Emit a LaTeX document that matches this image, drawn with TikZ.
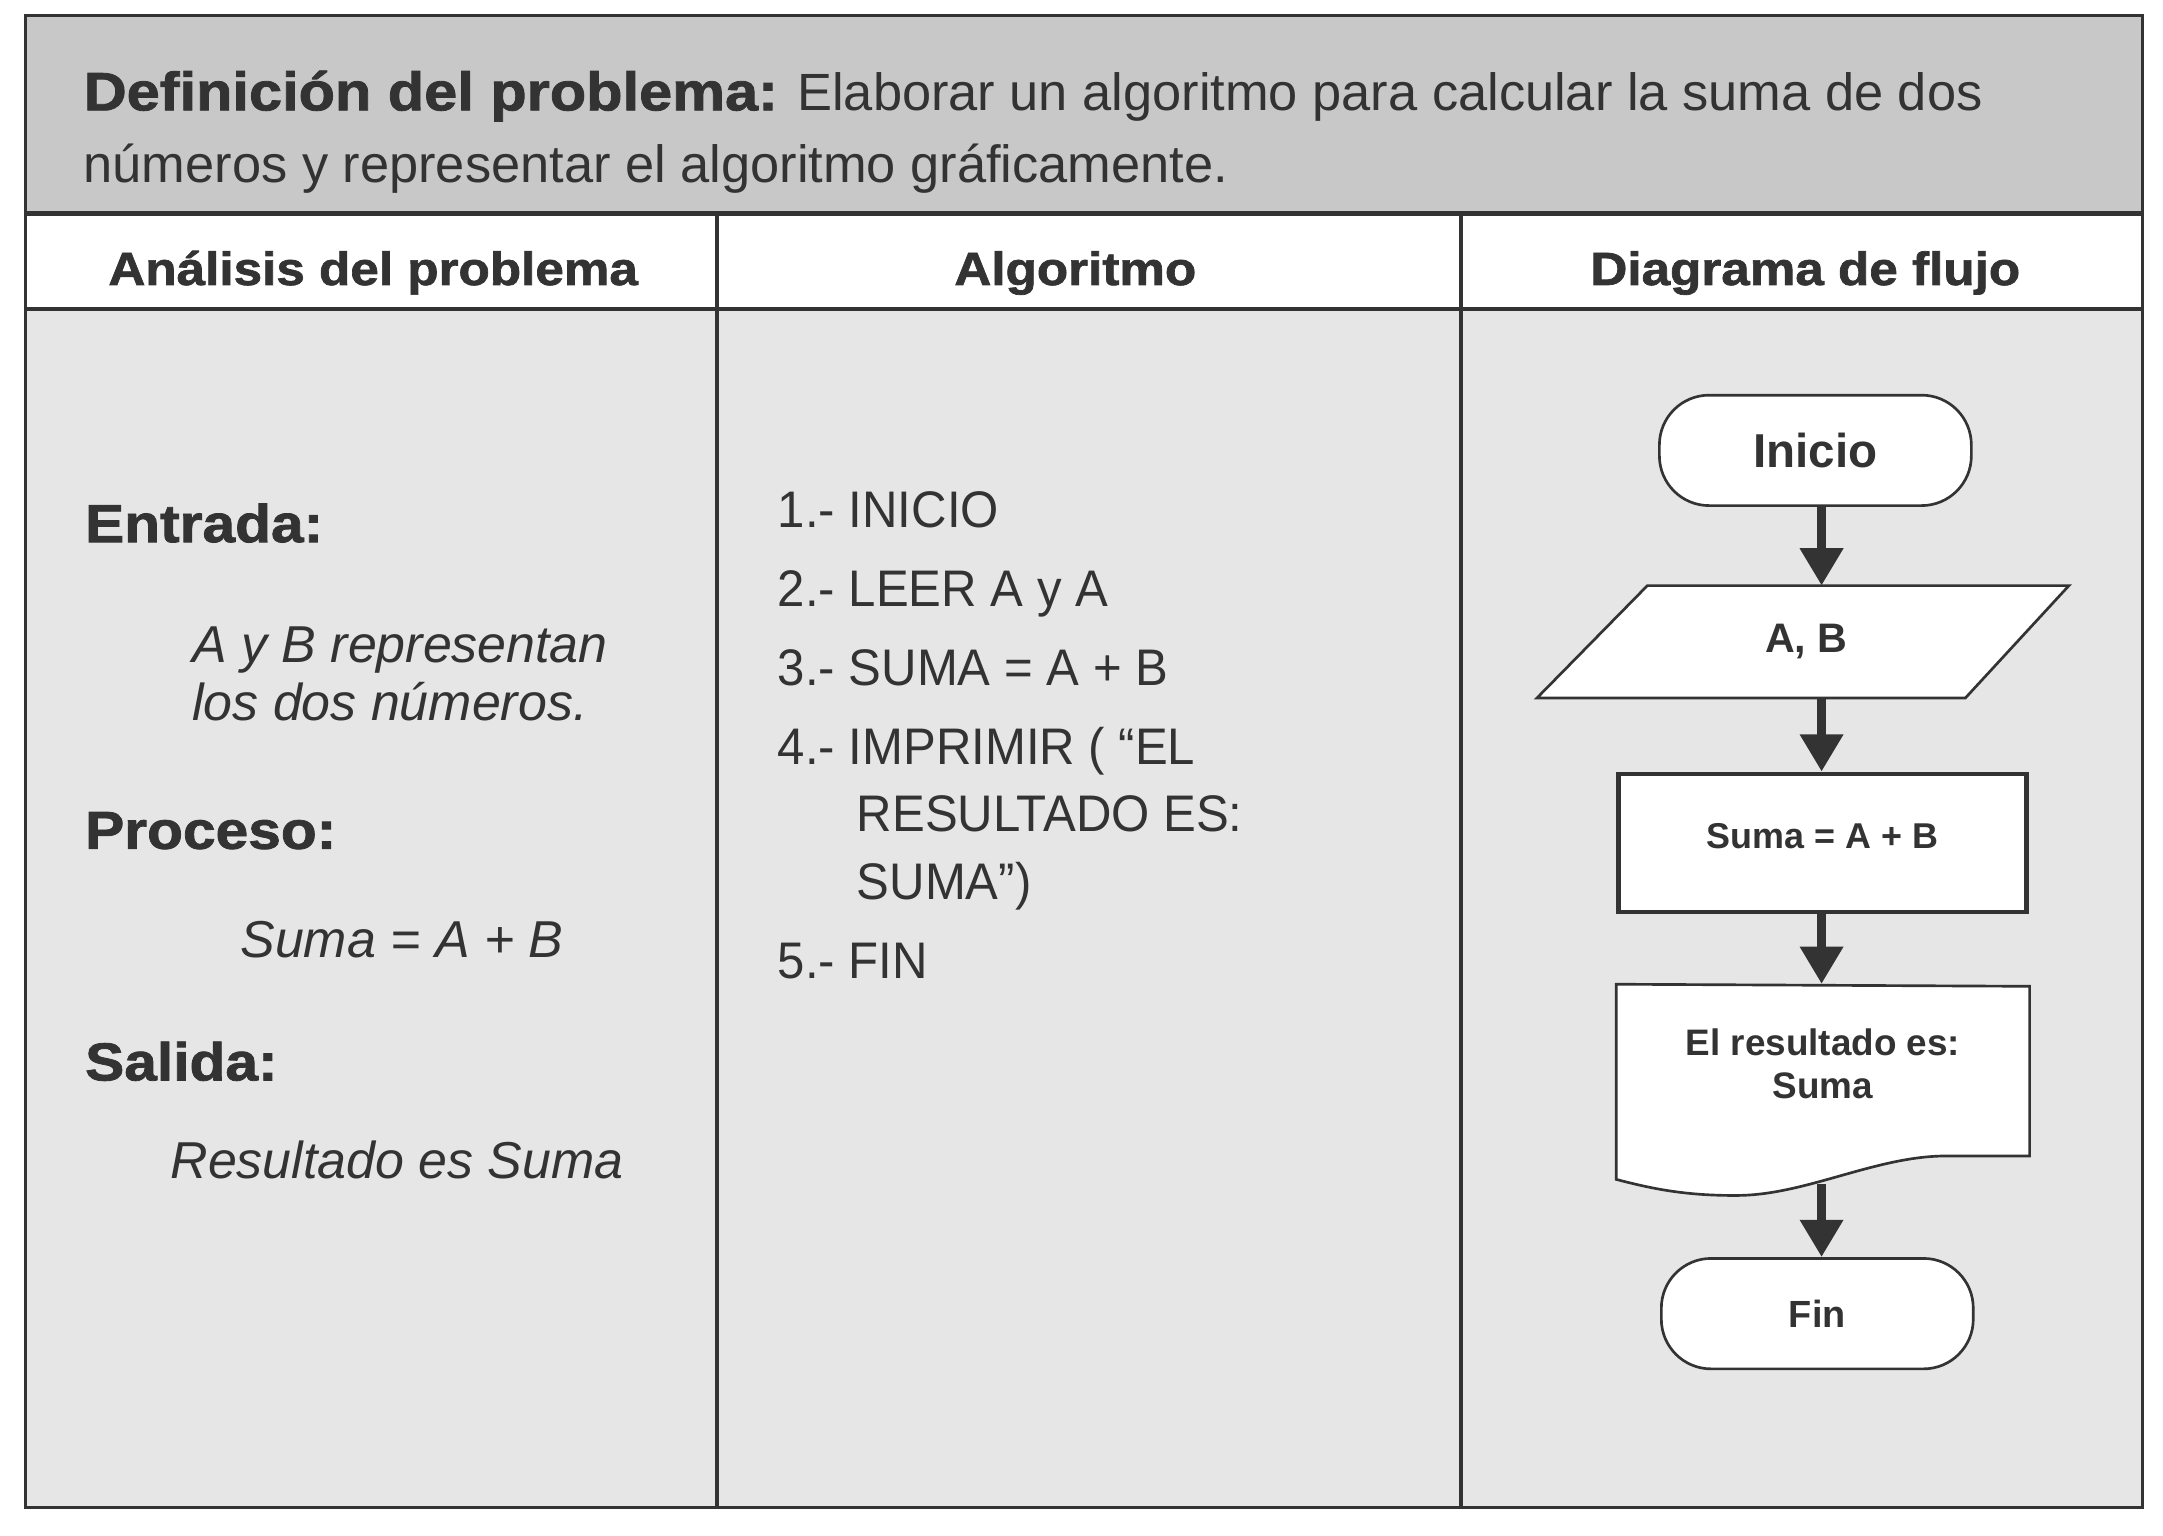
\documentclass[tikz,border=0pt]{standalone}
\usepackage{fontspec}
\setmainfont{Liberation Sans}
\newfontfamily\heavyf{Liberation Sans}[FakeStretch=1.1, FakeBold=1.5]
\newfontfamily\narrowf{Liberation Sans}[FakeStretch=0.955]
\usetikzlibrary{arrows.meta}
\pgfdeclarelayer{bg}
\pgfsetlayers{bg,main}
\definecolor{ink}{HTML}{333333}
\definecolor{hdrgray}{HTML}{C8C8C8}
\definecolor{bodygray}{HTML}{E6E6E6}
\tikzset{
  txt/.style={inner sep=0pt, text=ink, anchor=base west},
  ctxt/.style={inner sep=0pt, text=ink, anchor=base},
  hdrbold/.style={font=\heavyf\bfseries\fontsize{11}{13}\selectfont},
  colhead/.style={font=\heavyf\bfseries\fontsize{9.6}{12}\selectfont},
  itx/.style={font=\itshape\fontsize{10.7}{13}\selectfont},
  algo/.style={font=\narrowf\fontsize{10.6}{13}\selectfont},
  terminal/.style={draw=ink, fill=white, line width=0.55pt, rounded corners=0.36cm,
    minimum width=2.26cm, minimum height=0.8cm, inner sep=0pt, text=ink},
  procbox/.style={draw=ink, fill=white, line width=0.9pt,
    minimum width=2.956cm, minimum height=1.0cm, inner sep=0pt, text=ink},
  shapeline/.style={draw=ink, fill=white, line width=0.55pt, line join=miter},
  flow/.style={draw=ink, line width=2pt, -{Triangle[width=8.5pt,length=7.7pt]}},
  thickrule/.style={draw=ink, line width=0.95pt},
  colrule/.style={draw=ink, line width=0.85pt},
}
\begin{document}
\begin{tikzpicture}[x=0.01cm,y=-0.01cm]
\useasboundingbox (0,0) rectangle (1568,1113);
% table backgrounds
\begin{pgfonlayer}{bg}
  \fill[hdrgray] (18.8,11.4) rectangle (1553,155);
  \fill[white] (18.8,155) rectangle (1553,224);
  \fill[bodygray] (18.8,224) rectangle (1553,1092.5);
\end{pgfonlayer}
% table rules
\draw[thickrule] (18.8,155) -- (1553,155);
\draw[thickrule] (18.8,224) -- (1553,224);
\draw[colrule] (520,155) -- (520,1092.5);
\draw[colrule] (1059.4,155) -- (1059.4,1092.5);
\draw[draw=ink, line width=0.6pt] (18.8,11.4) rectangle (1553,1092.5);

% header
\node[txt, font=\fontsize{10.8}{14.8}\selectfont] (defA) at (60,80)
  {{\heavyf\bfseries\fontsize{11.15}{13}\selectfont Definición del problema:} Elaborar un algoritmo para calcular la suma de dos};
\node[txt, font=\fontsize{10.8}{14.8}\selectfont] (defB) at (60,132)
  {números y representar el algoritmo gráficamente.};

% column heads
\node[ctxt, colhead] (h1) at (270.5,206.6) {Análisis del problema};
\node[ctxt, colhead] (h2) at (779.5,206.6) {Algoritmo};
\node[ctxt, colhead] (h3) at (1308.7,206.6) {Diagrama de flujo};

% column 1
\node[txt, hdrbold] (entrada) at (61,393) {Entrada:};
\node[txt, itx] (ayb1) at (138.7,480.3) {A y B representan};
\node[txt, itx] (ayb2) at (138.7,522) {los dos números.};
\node[txt, hdrbold] (proceso) at (61,615.3) {Proceso:};
\node[txt, itx] (sumaeq) at (173.6,694.3) {Suma = A + B};
\node[txt, hdrbold] (salida) at (61,783.2) {Salida:};
\node[txt, itx] (resul) at (123,854.6) {Resultado es Suma};

% column 2
\node[txt, algo] (s1) at (563.2,382.6) {1.- INICIO};
\node[txt, algo] (s2) at (563.2,440) {2.- LEER A y A};
\node[txt, algo] (s3) at (563.2,497) {3.- SUMA = A + B};
\node[txt, algo] (s4) at (563.2,554.4) {4.- IMPRIMIR ( “EL};
\node[txt, algo] (s4b) at (620.4,602.5) {RESULTADO ES:};
\node[txt, algo] (s4c) at (620.4,652.4) {SUMA”)};
\node[txt, algo] (s5) at (563.2,709.1) {5.- FIN};

% flowchart
\coordinate (axis) at (1320.5,0);
\node[terminal, font=\bfseries\fontsize{9.8}{12}\selectfont] (inicio) at (1316,326.5) {Inicio};
\node[inner sep=0pt, text=ink, minimum width=3.09cm, minimum height=0.8cm,
  font=\bfseries\fontsize{8.5}{10}\selectfont] (ab) at (1309.5,465.25) {A, B};
\node[procbox, text depth=2.9pt, font=\bfseries\fontsize{7.4}{9}\selectfont] (sum) at (1321.2,611) {Suma = A + B};
\node[inner sep=0pt, text=ink, minimum width=2.996cm, minimum height=1.14cm, align=center,
  font=\bfseries\fontsize{7.6}{8.93}\selectfont] (doc) at (1321.5,771) {El resultado es:\\Suma};
\node[terminal, font=\bfseries\fontsize{7.8}{10}\selectfont] (fin) at (1317.4,952.3) {Fin};
\coordinate (docout) at (1320.5,858);

\begin{pgfonlayer}{bg}
  \draw[shapeline] ([xshift=0.4cm]ab.north west) -- ([xshift=0.35cm]ab.north east)
    -- ([xshift=-0.4cm]ab.south east) -- ([xshift=-0.4cm]ab.south west) -- cycle;
  \draw[shapeline] (1171.7,713.5) -- (1471.3,715) -- (1471.3,838) -- (1410.8,838)
    .. controls (1360,838) and (1310,866) .. (1260.4,866.6)
    .. controls (1220,867) and (1195,861) .. (1171.7,855) -- cycle;
\end{pgfonlayer}

\draw[flow] (inicio.south -| axis) -- (ab.north -| axis);
\draw[flow] (ab.south -| axis) -- (sum.north -| axis);
\draw[flow] (sum.south -| axis) -- (doc.north -| axis);
\draw[flow] (docout) -- (fin.north -| axis);
\end{tikzpicture}
\end{document}
